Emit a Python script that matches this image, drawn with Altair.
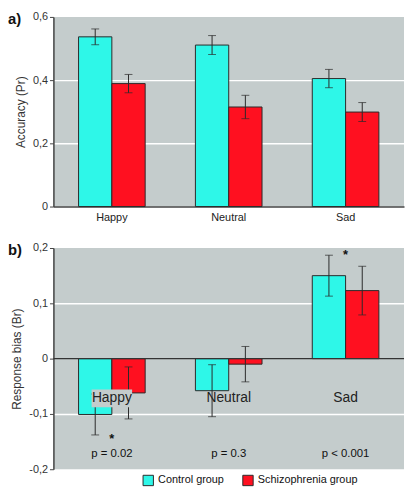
import altair as alt
import pandas as pd

emotions = ["Happy", "Neutral", "Sad"]
groups = ["Control group", "Schizophrenia group"]

acc_control = [0.537, 0.511, 0.405]
acc_control_err = [0.025, 0.030, 0.029]
acc_schizo = [0.389, 0.315, 0.299]
acc_schizo_err = [0.029, 0.037, 0.030]

bias_control = [-0.101, -0.058, 0.150]
bias_control_err = [0.037, 0.047, 0.037]
bias_schizo = [-0.062, -0.010, 0.123]
bias_schizo_err = [0.047, 0.032, 0.044]

p_labels = ["p = 0.02", "p = 0.3", "p < 0.001"]
star_emotions = ["Happy", "Sad"]
star_values = [-0.141, 0.190]

CYAN = "#2EF7E8"
RED = "#FF1020"
BG = "#C4CCCC"
DARK = "#2a2a2a"
FONT = "Liberation Sans"


def make_df(ctrl, ctrl_err, sz, sz_err):
    rows = []
    for i, e in enumerate(emotions):
        rows.append({"emotion": e, "group": groups[0], "value": ctrl[i],
                     "lo": ctrl[i] - ctrl_err[i], "hi": ctrl[i] + ctrl_err[i]})
        rows.append({"emotion": e, "group": groups[1], "value": sz[i],
                     "lo": sz[i] - sz_err[i], "hi": sz[i] + sz_err[i]})
    return pd.DataFrame(rows)


df_a = make_df(acc_control, acc_control_err, acc_schizo, acc_schizo_err)
df_b = make_df(bias_control, bias_control_err, bias_schizo, bias_schizo_err)
df_p = pd.DataFrame({"emotion": emotions, "p": p_labels})
df_star = pd.DataFrame({"emotion": star_emotions, "y": star_values})
df_cat = pd.DataFrame({"emotion": emotions})

W = 355
label_expr = "datum.value == 0 ? '0' : replace(replace(format(datum.value, '.1f'), '.', ','), '\u2212', '-')"


def x_enc(axis):
    return alt.X("emotion:N", sort=emotions,
                 scale=alt.Scale(domain=emotions, paddingInner=0.43, paddingOuter=0.215),
                 axis=axis, title=None)


xoff = alt.XOffset("group:N", sort=groups,
                   scale=alt.Scale(domain=groups, paddingInner=0, paddingOuter=0))


def y_axis(title, values, hide):
    return alt.Axis(title=title, values=values, labelExpr=label_expr,
                    labelFontSize=11, labelColor="#333", labelPadding=2,
                    titleFontSize=12, titleFontWeight="normal", titleColor="#333",
                    titlePadding=5,
                    domainColor="#444", domainWidth=1.5,
                    tickColor="#444", tickSize=4, tickWidth=1,
                    grid=True, gridColor="white", gridWidth=1.5,
                    gridOpacity={"condition": {"test": hide, "value": 0}, "value": 1})


def panel(df, ydomain, yvalues, ytitle, xaxis, hide, legend):
    yscale = alt.Scale(domain=ydomain, nice=False)
    base = alt.Chart(df)
    bars = base.mark_bar(stroke=DARK, strokeWidth=1).encode(
        x=x_enc(xaxis),
        xOffset=xoff,
        y=alt.Y("value:Q", scale=yscale, axis=y_axis(ytitle, yvalues, hide)),
        color=alt.Color("group:N", sort=groups,
                        scale=alt.Scale(domain=groups, range=[CYAN, RED]),
                        legend=legend),
    )
    rules = base.mark_rule(color=DARK, strokeWidth=1).encode(
        x=x_enc(xaxis), xOffset=xoff, y="lo:Q", y2="hi:Q")
    cap_lo = base.mark_tick(color=DARK, size=8, thickness=1).encode(
        x=x_enc(xaxis), xOffset=xoff, y="lo:Q")
    cap_hi = base.mark_tick(color=DARK, size=8, thickness=1).encode(
        x=x_enc(xaxis), xOffset=xoff, y="hi:Q")
    return bars, rules, cap_lo, cap_hi


def panel_title(txt):
    return alt.TitleParams(txt, anchor="start", frame="group", dx=-46, offset=-16,
                           fontSize=15, fontWeight="bold", color="#111", font=FONT)


# ---- panel a
bars_a, rules_a, lo_a, hi_a = panel(
    df_a, [0, 0.6], [0, 0.2, 0.4, 0.6], "Accuracy (Pr)",
    alt.Axis(labelFontSize=11, labelColor="#222", labelPadding=5, ticks=False,
             domainColor="#444", domainWidth=1.5, labelAngle=0, grid=False),
    "datum.value === 0 || datum.value >= 0.59", None)

chart_a = alt.layer(bars_a, rules_a, lo_a, hi_a).properties(
    width=W, height=192, title=panel_title("a)"))

# ---- panel b
legend_b = alt.Legend(title=None, orient="none", legendX=90, legendY=229,
                      direction="horizontal", symbolType="square", symbolSize=110,
                      symbolStrokeColor=DARK, symbolStrokeWidth=1, symbolOpacity=1,
                      labelFontSize=11, labelColor="#111", columnPadding=16,
                      labelOffset=4)
bars_b, rules_b, lo_b, hi_b = panel(
    df_b, [-0.2, 0.2], [-0.2, -0.1, 0, 0.1, 0.2], "Response bias (Br)",
    None, "datum.value <= -0.19 || datum.value >= 0.19 || datum.value === 0", legend_b)

zero = alt.Chart(pd.DataFrame({"z": [0]})).mark_rule(color="#333", strokeWidth=1.5).encode(
    y=alt.Y("z:Q", scale=alt.Scale(domain=[-0.2, 0.2], nice=False)))

box = alt.Chart(df_cat).transform_filter("datum.emotion === 'Happy'").mark_bar(
    size=41, color=BG).encode(x=x_enc(None), y=alt.datum(-0.088), y2=alt.datum(-0.056))

cat_text = alt.Chart(df_cat).mark_text(fontSize=14, color="#222", baseline="middle").encode(
    x=x_enc(None), y=alt.datum(-0.072), text="emotion:N")

p_text = alt.Chart(df_p).mark_text(fontSize=11.5, color="#111", baseline="middle").encode(
    x=x_enc(None), y=alt.datum(-0.172), text="p:N")

star_text = alt.Chart(df_star).mark_text(fontSize=13, fontWeight="bold", color="#111",
                                          baseline="middle", dy=2).encode(
    x=x_enc(None), y="y:Q", text=alt.value("*"))

chart_b = alt.layer(bars_b, zero, rules_b, lo_b, hi_b, box, cat_text, p_text, star_text).properties(
    width=W, height=224, title=panel_title("b)"))

chart = alt.vconcat(chart_a, chart_b, spacing=20).resolve_legend(
    color="independent").configure(font=FONT).configure_view(
    fill=BG, stroke=None).properties(padding=0)

chart.save("out.html", embed_options={"renderer": "svg", "actions": False})
